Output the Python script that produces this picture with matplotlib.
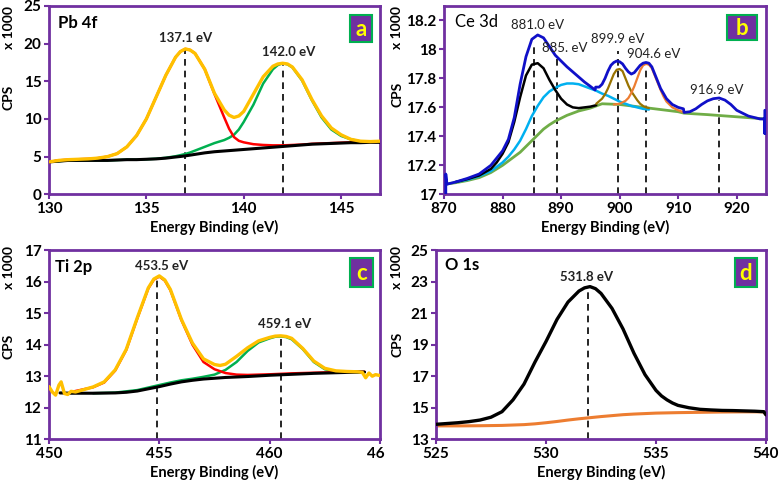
import matplotlib
matplotlib.use("Agg")
import matplotlib.pyplot as plt
from matplotlib.patches import Rectangle
from matplotlib.transforms import Bbox, TransformedBbox

plt.rcParams["font.family"] = ["Lato", "DejaVu Sans"]
plt.rcParams["font.weight"] = "bold"
plt.rcParams["lines.solid_joinstyle"] = "round"
plt.rcParams["lines.solid_capstyle"] = "round"

PURPLE = "#7030A0"
GOLD = "#FFC000"

# ---------------- panel a : Pb 4f ----------------
a_x = [130, 130.5, 131, 131.5, 132, 132.5, 133, 133.5, 134, 134.5, 135, 135.5, 136, 136.5,
       136.75, 137, 137.25, 137.5, 138, 138.5, 139, 139.25, 139.5, 139.75, 140, 140.5, 141,
       141.5, 141.75, 142, 142.25, 142.5, 143, 143.5, 144, 144.5, 145, 145.5, 146, 146.5, 147]
a_envelope = [4.3, 4.5, 4.6, 4.65, 4.7, 4.8, 5.0, 5.4, 6.3, 7.8, 10.0, 12.9, 15.8, 18.2,
              18.95, 19.3, 19.15, 18.7, 16.6, 13.4, 11.2, 10.5, 10.2, 10.4, 11.0, 13.3, 15.6,
              17.0, 17.3, 17.4, 17.3, 16.9, 15.2, 12.6, 10.4, 8.8, 7.9, 7.3, 7.05, 7.0, 7.05]
a_peak1 = [4.3, 4.5, 4.6, 4.65, 4.7, 4.8, 5.0, 5.4, 6.3, 7.8, 10.0, 12.9, 15.8, 18.2,
           18.95, 19.3, 19.15, 18.7, 16.6, 13.3, 10.2, 8.7, 7.6, 7.1, 6.9, 6.65, 6.55,
           6.5, 6.5, 6.5, 6.52, 6.55, 6.6, 6.7, 6.75, 6.8, 6.85, 6.9, 6.9, 6.95, 6.95]
a_peak2 = [4.3, 4.4, 4.5, 4.5, 4.5, 4.5, 4.5, 4.55, 4.6, 4.6, 4.65, 4.72, 4.85, 5.05,
           5.2, 5.35, 5.55, 5.8, 6.3, 6.8, 7.2, 7.5, 7.9, 8.6, 9.6, 11.9, 14.7,
           16.6, 17.15, 17.4, 17.25, 16.85, 15.1, 12.5, 10.2, 8.6, 7.75, 7.3, 7.0, 6.95, 7.0]
a_background = [4.3, 4.4, 4.5, 4.5, 4.5, 4.5, 4.5, 4.55, 4.6, 4.6, 4.65, 4.7, 4.8, 4.95,
                5.02, 5.1, 5.2, 5.3, 5.5, 5.65, 5.75, 5.8, 5.85, 5.9, 5.95, 6.05, 6.15,
                6.25, 6.3, 6.35, 6.4, 6.45, 6.55, 6.65, 6.7, 6.75, 6.8, 6.85, 6.85, 6.9, 6.9]
a_lines = [137.0, 142.0]
a_tops = [19.3, 17.4]
a_labels = ["137.1 eV", "142.0 eV"]
a_label_pos = [(137.0, 20.7), (142.3, 18.9)]

# ---------------- panel b : Ce 3d ----------------
b_total_x = [870.3, 870.3, 870.5, 872, 874, 876, 878, 879, 880, 881, 882, 883, 884, 885,
             886, 887, 888, 889, 890, 891, 892, 893, 894, 895, 895.8, 895.9, 896.5, 897,
             897.5, 898, 898.5, 899, 899.5, 900, 900.5, 901, 901.5, 902, 902.5, 903, 903.5,
             904, 904.5, 905, 905.5, 906, 906.5, 907, 908, 909, 910, 910.9, 911, 912, 913,
             914, 915, 916, 917, 918, 919, 920, 921, 922, 923, 924, 924.8, 924.8, 924.8]
b_total = [17.0, 17.14, 17.07, 17.085, 17.11, 17.14, 17.2, 17.25, 17.30, 17.38, 17.53, 17.76,
           17.95, 18.07, 18.10, 18.08, 18.02, 17.96, 17.92, 17.88, 17.845, 17.81, 17.775,
           17.745, 17.72, 17.74, 17.74, 17.76, 17.8, 17.85, 17.89, 17.91, 17.92, 17.915,
           17.9, 17.87, 17.845, 17.83, 17.84, 17.865, 17.89, 17.905, 17.91, 17.905, 17.88,
           17.83, 17.78, 17.73, 17.66, 17.62, 17.60, 17.59, 17.565, 17.57, 17.59, 17.62,
           17.645, 17.66, 17.665, 17.65, 17.62, 17.58, 17.56, 17.54, 17.53, 17.52, 17.52,
           17.42, 17.58]
b_881_x = [872, 874, 876, 878, 879, 880, 881, 882, 883, 884, 885, 886, 887, 888, 889, 890,
           891, 892, 893, 894, 895, 896]
b_881 = [17.085, 17.105, 17.13, 17.175, 17.22, 17.28, 17.36, 17.50, 17.67, 17.82, 17.895,
         17.905, 17.87, 17.79, 17.72, 17.66, 17.62, 17.60, 17.595, 17.60, 17.605, 17.615]
b_885_x = [872, 874, 876, 878, 880, 881, 882, 883, 884, 885, 886, 887, 888, 889, 890, 891,
           892, 893, 894, 895, 896, 897, 898, 899, 900, 901, 902, 903, 904, 905]
b_885 = [17.085, 17.1, 17.125, 17.16, 17.22, 17.26, 17.31, 17.37, 17.45, 17.54, 17.61, 17.67,
         17.71, 17.735, 17.755, 17.765, 17.765, 17.76, 17.745, 17.73, 17.715, 17.695, 17.68,
         17.66, 17.64, 17.625, 17.61, 17.60, 17.59, 17.585]
b_bg_x = [870.3, 872, 874, 876, 878, 880, 881, 882, 883, 884, 885, 886, 887, 888, 889, 890,
          891, 892, 893, 894, 895, 896, 897, 900, 905, 910, 911, 915, 920, 925]
b_bg = [17.07, 17.08, 17.095, 17.115, 17.15, 17.20, 17.23, 17.26, 17.29, 17.33, 17.37, 17.41,
        17.45, 17.48, 17.505, 17.525, 17.545, 17.56, 17.575, 17.585, 17.595, 17.61, 17.625,
        17.62, 17.595, 17.57, 17.56, 17.55, 17.535, 17.52]
b_899_x = [896, 897, 897.5, 898, 898.5, 899, 899.5, 900, 900.5, 901, 901.5, 902, 902.5, 903,
           903.5, 904, 904.5, 905]
b_899 = [17.625, 17.66, 17.69, 17.73, 17.78, 17.83, 17.86, 17.865, 17.85, 17.8, 17.75, 17.71,
         17.68, 17.65, 17.625, 17.61, 17.6, 17.595]
b_904_x = [899, 900, 901, 901.5, 902, 902.5, 903, 903.5, 904, 904.5, 905, 905.5, 906, 906.5,
           907, 907.5, 908, 909, 910, 911]
b_904 = [17.62, 17.625, 17.645, 17.665, 17.70, 17.745, 17.80, 17.855, 17.89, 17.90, 17.895,
         17.87, 17.82, 17.77, 17.72, 17.675, 17.64, 17.6, 17.58, 17.565]
b_lines = [885.4, 889.3, 899.8, 904.5, 917.0]
b_tops = [18.04, 17.95, 17.99, 17.88, 17.65]
b_labels = ["881.0 eV", "885. eV", "899.9 eV", "904.6 eV", "916.9 eV"]
b_label_pos = [(886.0, 18.17), (890.7, 18.01), (899.6, 18.07), (905.8, 17.97), (916.6, 17.72)]

# ---------------- panel c : Ti 2p ----------------
c_env_x = [450.0, 450.15, 450.3, 450.45, 450.55, 450.7, 450.85, 451.0, 451.2, 451.5, 452,
           452.5, 453, 453.5, 454, 454.5, 454.75, 455, 455.25, 455.5, 456, 456.5, 457,
           457.5, 457.75, 458, 458.5, 459, 459.5, 460, 460.25, 460.5, 460.75, 461, 461.5,
           462, 462.5, 463, 463.5, 464, 464.2, 464.35, 464.5, 464.65, 464.8, 465]
c_envelope = [12.67, 12.5, 12.4, 12.72, 12.82, 12.45, 12.42, 12.52, 12.5, 12.56, 12.66,
              12.82, 13.2, 13.85, 14.85, 15.8, 16.08, 16.18, 16.05, 15.75, 14.8, 14.05,
              13.55, 13.37, 13.34, 13.38, 13.63, 13.9, 14.12, 14.23, 14.27, 14.28, 14.26,
              14.2, 13.88, 13.48, 13.25, 13.17, 13.15, 13.14, 13.12, 12.95, 13.1, 13.0,
              13.05, 13.02]
c_peak1_x = [451, 452, 452.5, 453, 453.5, 454, 454.5, 454.75, 455, 455.25, 455.5, 456,
             456.5, 457, 457.5, 458, 458.5, 459, 460, 461, 462, 463, 464, 464.3]
c_peak1 = [12.5, 12.65, 12.8, 13.18, 13.83, 14.83, 15.78, 16.06, 16.16, 16.03, 15.73, 14.78,
           14.0, 13.45, 13.22, 13.1, 13.05, 13.04, 13.06, 13.09, 13.11, 13.13, 13.14, 13.14]
c_peak2_x = [452, 453, 454, 455, 455.5, 456, 456.5, 457, 457.5, 458, 458.5, 459, 459.5, 460,
             460.25, 460.5, 460.75, 461, 461.5, 462, 462.5, 463, 463.5, 464, 464.3]
c_peak2 = [12.46, 12.48, 12.56, 12.72, 12.8, 12.87, 12.92, 12.98, 13.05, 13.2, 13.45, 13.8,
           14.07, 14.2, 14.25, 14.26, 14.24, 14.17, 13.86, 13.45, 13.22, 13.15, 13.14, 13.13,
           13.13]
c_bg_x = [450.5, 451, 452, 453, 453.5, 454, 454.5, 455, 455.5, 456, 456.5, 457, 458, 459,
          460, 461, 462, 463, 464, 464.3]
c_background = [12.47, 12.46, 12.46, 12.47, 12.49, 12.53, 12.6, 12.67, 12.75, 12.82, 12.87,
                12.91, 12.96, 12.99, 13.03, 13.06, 13.09, 13.11, 13.13, 13.13]
c_lines = [454.9, 460.5]
c_tops = [16.18, 14.28]
c_labels = ["453.5 eV", "459.1 eV"]
c_label_pos = [(455.1, 16.5), (460.7, 14.65)]

# ---------------- panel d : O 1s ----------------
d_x = [525, 525.5, 526, 526.5, 527, 527.5, 528, 528.5, 529, 529.5, 530, 530.5, 531, 531.5,
       531.75, 532, 532.25, 532.5, 533, 533.5, 534, 534.5, 535, 535.25, 535.5, 535.75, 536,
       536.5, 537, 537.5, 538, 538.5, 539, 539.5, 539.9, 540]
d_peak = [13.95, 14.0, 14.05, 14.12, 14.22, 14.4, 14.75, 15.5, 16.5, 17.9, 19.2, 20.6, 21.7,
          22.4, 22.6, 22.68, 22.55, 22.25, 21.3, 20.0, 18.45, 17.1, 16.1, 15.75, 15.5, 15.3,
          15.15, 15.0, 14.9, 14.86, 14.83, 14.82, 14.8, 14.78, 14.75, 14.55]
d_bg_x = [525, 526, 527, 528, 529, 529.5, 530, 530.5, 531, 531.5, 532, 532.5, 533, 533.5,
          534, 535, 536, 537, 538, 539, 539.9, 540]
d_background = [13.85, 13.85, 13.86, 13.88, 13.93, 13.98, 14.05, 14.13, 14.22, 14.3, 14.37,
                14.44, 14.5, 14.56, 14.6, 14.66, 14.69, 14.71, 14.73, 14.74, 14.74, 14.55]
d_lines = [531.9]
d_tops = [22.68]
d_labels = ["531.8 eV"]
d_label_pos = [(531.85, 23.3)]


def style_axes(ax, xlim, ylim, xticks, yticks, yticklabels=None):
    ax.set_xlim(*xlim)
    ax.set_ylim(*ylim)
    ax.set_xticks(xticks)
    ax.set_yticks(yticks)
    if yticklabels is not None:
        ax.set_yticklabels(yticklabels)
    for s in ax.spines.values():
        s.set_color(PURPLE)
        s.set_linewidth(2.0)
    ax.tick_params(direction="out", length=3.5, width=1.5, color=PURPLE,
                   labelsize=11, pad=2)
    ax.set_xlabel("Energy Binding (eV)", fontsize=10.5, fontweight="bold", labelpad=3)


def add_tag(ax, letter, x0, y0, w, h):
    ax.add_patch(Rectangle((x0, y0), w, h, transform=ax.transAxes, facecolor=PURPLE,
                           edgecolor="#00B050", linewidth=1.5, zorder=10))
    ax.text(x0 + w / 2, y0 + h / 2 - 0.005, letter, transform=ax.transAxes, color="#FFFF00",
            fontsize=16, fontweight="bold", ha="center", va="center", zorder=11)


def peak_markers(ax, xs, tops, labels, label_pos, ymin, size=9, weight="bold"):
    for x, t in zip(xs, tops):
        ax.plot([x, x], [ymin, t], color="black", lw=1.2, ls=(0, (4, 3)), zorder=1)
    for lab, (lx, ly) in zip(labels, label_pos):
        ax.text(lx, ly, lab, fontsize=size, fontweight=weight, ha="center", va="center",
                color="#222222")


fig = plt.figure(figsize=(7.79, 4.82), dpi=100)
ax_a = fig.add_axes([0.0629, 0.5969, 0.4249, 0.3907])
ax_b = fig.add_axes([0.5700, 0.5969, 0.4133, 0.3907])
ax_c = fig.add_axes([0.0629, 0.0886, 0.4249, 0.3927])
ax_d = fig.add_axes([0.5597, 0.0886, 0.4236, 0.3927])

# panel a
ax_a.plot(a_x, a_peak2, color="#00B050", lw=1.8, zorder=2)
ax_a.plot(a_x, a_peak1, color="#FF0000", lw=1.8, zorder=2)
ax_a.plot(a_x, a_background, color="black", lw=2.2, zorder=3)
ax_a.plot(a_x, a_envelope, color=GOLD, lw=2.4, zorder=4)
peak_markers(ax_a, a_lines, a_tops, a_labels, a_label_pos, 0, size=9.5)
style_axes(ax_a, (130, 147), (0, 25), [130, 135, 140, 145], [0, 5, 10, 15, 20, 25])
ax_a.text(0.027, 0.91, "Pb 4f", transform=ax_a.transAxes, fontsize=12, fontweight="bold",
          va="center")
add_tag(ax_a, "a", 0.91, 0.81, 0.066, 0.143)

# panel b
ax_b.plot(b_bg_x, b_bg, color="#70AD47", lw=2.0, zorder=2)
ax_b.plot(b_885_x, b_885, color="#00B0F0", lw=1.8, zorder=2)
ax_b.plot(b_881_x, b_881, color="black", lw=1.8, zorder=2)
ax_b.plot(b_899_x, b_899, color="#997300", lw=1.6, zorder=2)
ax_b.plot(b_904_x, b_904, color="#ED7D31", lw=1.6, zorder=2)
ax_b.plot(b_total_x, b_total, color="#1010C8", lw=2.0, zorder=3)
peak_markers(ax_b, b_lines, b_tops, b_labels, b_label_pos, 17, size=9.5, weight="normal")
style_axes(ax_b, (870, 925), (17, 18.3), [870, 880, 890, 900, 910, 920],
           [17, 17.2, 17.4, 17.6, 17.8, 18, 18.2],
           ["17", "17.2", "17.4", "17.6", "17.8", "18", "18.2"])
ax_b.text(0.034, 0.915, "Ce 3d", transform=ax_b.transAxes, fontsize=12, fontweight="normal",
          va="center")
add_tag(ax_b, "b", 0.879, 0.82, 0.093, 0.133)

# panel c
ax_c.plot(c_peak2_x, c_peak2, color="#00B050", lw=1.8, zorder=2)
ax_c.plot(c_peak1_x, c_peak1, color="#FF0000", lw=1.8, zorder=2)
ax_c.plot(c_bg_x, c_background, color="black", lw=2.2, zorder=3)
ax_c.plot(c_env_x, c_envelope, color=GOLD, lw=2.4, zorder=4)
peak_markers(ax_c, c_lines, c_tops, c_labels, c_label_pos, 11, size=9.5)
style_axes(ax_c, (450, 465), (11, 17), [450, 455, 460, 465], [11, 12, 13, 14, 15, 16, 17])
ax_c.text(0.018, 0.91, "Ti 2p", transform=ax_c.transAxes, fontsize=12, fontweight="bold",
          va="center")
add_tag(ax_c, "c", 0.91, 0.805, 0.069, 0.153)

# panel d
ax_d.plot(d_bg_x, d_background, color="#ED7D31", lw=2.2, zorder=2)
ax_d.plot(d_x, d_peak, color="black", lw=2.4, zorder=3)
peak_markers(ax_d, d_lines, d_tops, d_labels, d_label_pos, 13, size=9.5)
style_axes(ax_d, (525, 540), (13, 25), [525, 530, 535, 540], [13, 15, 17, 19, 21, 23, 25])
ax_d.text(0.027, 0.92, "O 1s", transform=ax_d.transAxes, fontsize=12, fontweight="bold",
          va="center")
add_tag(ax_d, "d", 0.906, 0.805, 0.067, 0.153)

# y labels drawn as figure text
for (xf, y_top, y_mid) in [(0.011, 0.942, 0.797), (0.510, 0.942, 0.805),
                           (0.011, 0.444, 0.282), (0.510, 0.444, 0.286)]:
    fig.text(xf, y_top, "x 1000", rotation=90, fontsize=10, fontweight="bold",
             ha="center", va="center")
    fig.text(xf, y_mid, "CPS", rotation=90, fontsize=10, fontweight="bold",
             ha="center", va="center")

# last tick label of panel c is cut off by panel d in the original
fig.canvas.draw()
clip = TransformedBbox(Bbox([[0, 0], [385.0 / 779, 1]]), fig.transFigure)
last = ax_c.get_xticklabels()[-1]
last.set_clip_box(clip)
last.set_clip_on(True)

fig.savefig("out.png", dpi=100)
